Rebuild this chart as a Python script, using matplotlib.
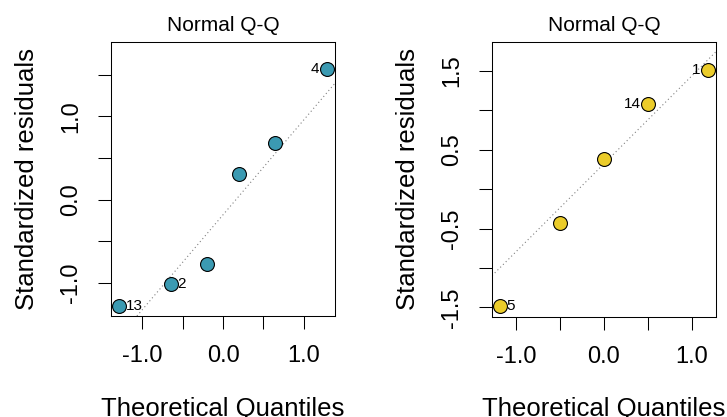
import numpy as np
import matplotlib
matplotlib.use("Agg")
import matplotlib.pyplot as plt

plt.rcParams["font.family"] = ["Liberation Sans", "DejaVu Sans"]

# left panel: theoretical quantiles vs standardized residuals
left_q = [-1.28, -0.64, -0.20, 0.20, 0.64, 1.28]
left_r = [-1.276, -1.012, -0.776, 0.305, 0.681, 1.565]
left_ids = ["13", "2", "", "", "", "4"]

# right panel
right_q = [-1.18, -0.50, 0.0, 0.50, 1.18]
right_r = [-1.485, -0.430, 0.376, 1.072, 1.511]
right_ids = ["5", "", "", "14", "1"]

TEAL = "#3B9AB2"
YELLOW = "#EBCC2A"

left_yticks = [-1.0, -0.5, 0.0, 0.5, 1.0, 1.5]
left_ylabels = ["-1.0", "", "0.0", "", "1.0", ""]
right_yticks = [-1.5, -1.0, -0.5, 0.0, 0.5, 1.0, 1.5]
right_ylabels = ["-1.5", "", "-0.5", "", "0.5", "", "1.5"]
xticks = [-1.0, -0.5, 0.0, 0.5, 1.0]
xlabels = ["-1.0", "", "0.0", "", "1.0"]


def qq_panel(ax, q, r, ids, color, xlim, ylim, yticks, ylabels):
    q = np.asarray(q)
    r = np.asarray(r)
    # qqline through the quartiles
    r1, r3 = np.quantile(r, [0.25, 0.75])
    z = 0.6745
    slope = (r3 - r1) / (2 * z)
    icept = r1 + z * slope
    ax.axline((0, icept), slope=slope, color="#808080", ls=(0, (1, 2.5)), lw=0.8, zorder=1)
    ax.scatter(q, r, s=100, c=color, edgecolors="black", linewidths=0.8, zorder=2, clip_on=False)
    mid = q.mean()
    for xi, yi, lab in zip(q, r, ids):
        if not lab:
            continue
        if xi < mid:
            ax.annotate(lab, (xi, yi), xytext=(4.3, 0), textcoords="offset points",
                        ha="left", va="center", fontsize=11, zorder=3)
        else:
            ax.annotate(lab, (xi, yi), xytext=(-5.0, 0), textcoords="offset points",
                        ha="right", va="center", fontsize=11, zorder=3)
    ax.set_xlim(*xlim)
    ax.set_ylim(*ylim)
    ax.set_xticks(xticks)
    ax.set_xticklabels(xlabels)
    ax.set_yticks(yticks)
    ax.set_yticklabels(ylabels, rotation=90, va="center")
    ax.tick_params(length=9.4, width=0.75, labelsize=17, pad=11.5)
    for s in ax.spines.values():
        s.set_linewidth(0.75)
    ax.set_title("Normal Q-Q", fontsize=15, pad=8)
    ax.set_xlabel("Theoretical Quantiles", fontsize=18.5, labelpad=21.5)
    ax.set_ylabel("Standardized residuals", fontsize=18.5, labelpad=15)


fig = plt.figure(figsize=(7.27, 4.17), dpi=100)
ax1 = fig.add_axes([111 / 727, 1 - 316 / 417, 224 / 727, 274 / 417])
ax2 = fig.add_axes([492 / 727, 1 - 316.5 / 417, 224 / 727, 274.5 / 417])

qq_panel(ax1, left_q, left_r, left_ids, TEAL, (-1.385, 1.385), (-1.398, 1.893),
         left_yticks, left_ylabels)
qq_panel(ax2, right_q, right_r, right_ids, YELLOW, (-1.274, 1.274), (-1.614, 1.862),
         right_yticks, right_ylabels)

fig.savefig("out.png", dpi=100)
